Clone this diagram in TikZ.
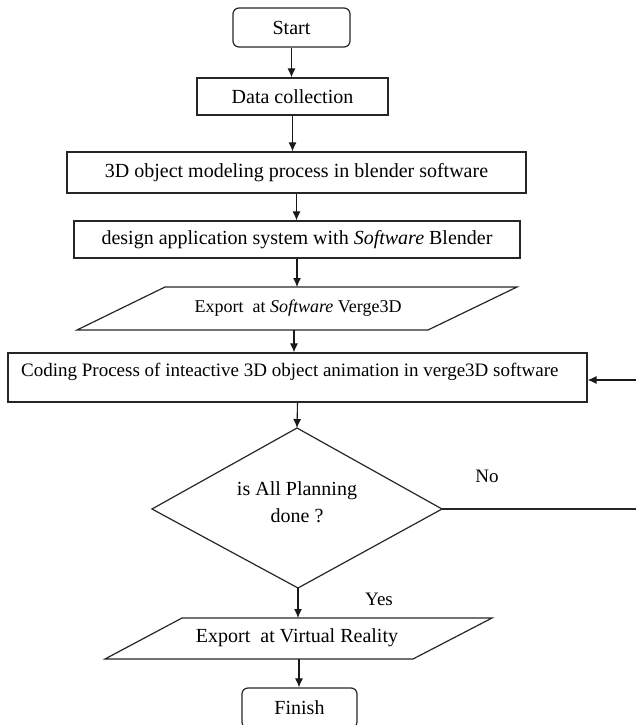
\documentclass[tikz,border=0pt]{standalone}
\usepackage{fontspec}
\setmainfont{Liberation Serif}
\usetikzlibrary{arrows.meta}
\begin{document}
\begin{tikzpicture}[x=1pt,y=-1pt,
 box/.style={draw=black!85, line width=1.2pt, inner sep=0pt},
 rbox/.style={box, rounded corners=6pt},
 txt/.style={inner sep=0pt, font=\fontsize{20}{27}\selectfont},
 arr/.style={draw=black!90, line width=1.1pt, -{Latex[length=9pt,width=8pt]}},
 plain/.style={draw=black!85, line width=1.1pt},
 shp/.style={draw=black!85, line width=1.2pt, line join=miter}]
\useasboundingbox (0,0) rectangle (636,725);
\clip (0,0) rectangle (636,725);

% process boxes
\node[rbox, txt, minimum width=117pt, minimum height=39pt] (start) at (291.5,27.5) {Start};
\node[box, txt, minimum width=191pt, minimum height=37pt] (data) at (292.5,96.5) {Data collection};
\node[box, txt, minimum width=459pt, minimum height=41pt] (model) at (296.5,172.5) {3D object modeling process in blender software};
\node[box, txt, minimum width=446pt, minimum height=37pt] (design) at (297,239.5) {design application system with \textit{Software} Blender};

% export to Verge3D (parallelogram)
\draw[shp] (165,287) -- (517,287) -- (428,330) -- (77,330) -- cycle;
\node[txt, font=\fontsize{18}{22}\selectfont] (exp1) at (298,308) {Export\ \ at \textit{Software} Verge3D};
\coordinate (e1n) at (297,287);
\coordinate (e1s) at (294,330);

% coding box
\node[box, minimum width=579pt, minimum height=49pt] (coding) at (297.5,377.5) {};
\node[txt, anchor=west, font=\fontsize{19}{23}\selectfont] (codingtxt) at (21,372) {Coding Process of inteactive 3D object animation in verge3D software};

% decision diamond
\coordinate (dtop) at (297,428);
\coordinate (dright) at (442,509);
\coordinate (dbot) at (298,588);
\coordinate (dleft) at (152,509);
\draw[shp] (dtop) -- (dright) -- (dbot) -- (dleft) -- cycle;
\node[txt, align=center] (q) at (297,502) {is All Planning\\done ?};

% export to VR (parallelogram)
\draw[shp] (182,618) -- (492,618) -- (413,659) -- (105,659) -- cycle;
\node[txt] (exp2) at (297,638) {Export\ \ at Virtual Reality};
\coordinate (vrn) at (298,618);
\coordinate (vrs) at (299,659);

% finish
\node[rbox, txt, minimum width=115pt, minimum height=40pt] (finish) at (299.5,708) {Finish};

% connectors
\draw[arr] (start.south) -- (start.south |- data.north);
\draw[arr] (data.south) -- (data.south |- model.north);
\draw[arr] (model.south) -- (model.south |- design.north);
\draw[arr] (design.south) -- (e1n);
\draw[arr] (e1s) -- (e1s |- coding.north);
\draw[arr] (coding.south) -- (dtop);
\draw[arr] (dbot) -- (vrn);
\draw[arr] (vrs) -- (vrs |- finish.north);
\coordinate (rin) at (636,380);
\coordinate (rout) at (636,509);
\draw[arr] (rin) -- (coding.east |- rin);
\draw[plain] (dright) -- (rout);

% labels
\node[txt, font=\fontsize{19}{23}\selectfont] (yes) at (379,599) {Yes};
\node[txt, font=\fontsize{19}{23}\selectfont] (no) at (487,476) {No};
\end{tikzpicture}
\end{document}
